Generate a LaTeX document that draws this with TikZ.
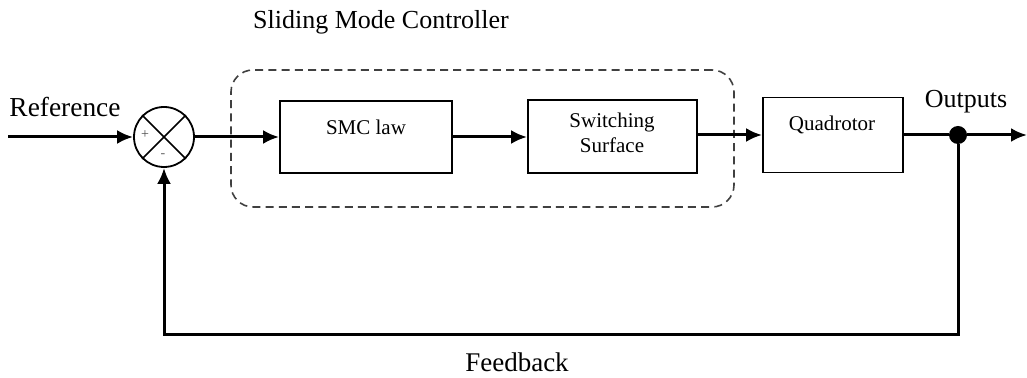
\documentclass[tikz,border=0pt]{standalone}
\usepackage{fontspec}
\setmainfont{Liberation Serif}
\usetikzlibrary{arrows.meta}

\begin{document}
\begin{tikzpicture}[x=0.5pt,y=-0.5pt,
    block/.style={draw,line width=0.9pt,minimum width=#1,minimum height=36pt,inner sep=0pt},
    blocktext/.style={font=\fontsize{10.5}{12.5}\selectfont,align=center,inner sep=0pt},
    outer/.style={font=\fontsize{13}{15}\selectfont,inner sep=0pt},
    sig/.style={line width=1.5pt,-{Latex[length=8pt,width=7pt]}}]
    \useasboundingbox (0,0) rectangle (1027,378);

    % controller group
    \node[draw,dashed,dash pattern=on 4pt off 2.6pt,line width=0.8pt,black!75,rounded corners=11pt,
          minimum width=251.5pt,minimum height=68.5pt] (smcgroup) at (482.5,138.5) {};
    \node[outer] (smctitle) at (381,22) {Sliding Mode Controller};

    % summing junction
    \node[draw,circle,line width=0.9pt,minimum size=30pt,inner sep=0pt] (sum) at (164,137) {};
    \draw[line width=0.8pt] (sum.north west) -- (sum.south east);
    \draw[line width=0.8pt] (sum.north east) -- (sum.south west);
    \node[inner sep=0pt,font=\fontsize{7}{8}\selectfont,black!70] (plus) at (145,135) {+};
    \node[inner sep=0pt,font=\fontsize{7}{8}\selectfont,black!60] (minus) at (163,156) {-};

    % blocks
    \node[block=86pt] (smc) at (366,137) {};
    \node[blocktext] (smclabel) at (366,127) {SMC law};
    \node[block=84.5pt,minimum height=36.5pt] (sw) at (612.5,136.5) {};
    \node[blocktext] (swlabel) at (612,133) {Switching\\Surface};
    \node[block=70pt,minimum height=37.5pt] (quad) at (833,135) {};
    \node[blocktext] (quadlabel) at (832,125) {Quadrotor};

    % input and output
    \coordinate (in) at (8,137);
    \node[outer,font=\fontsize{13.7}{15}\selectfont] (reflabel) at (65,107) {Reference};
    \node[circle,fill,inner sep=0pt,minimum size=9pt] (dot) at (958,135) {};
    \coordinate (out) at (1027,135);
    \node[outer] (outlabel) at (966,102) {Outputs};
    \coordinate (fb) at (958,335);
    \node[outer,font=\fontsize{13.5}{15}\selectfont] (fblabel) at (517,362) {Feedback};

    % signal lines
    \draw[sig] (in) -- (sum.west);
    \draw[sig] (sum.east) -- (smc.west);
    \draw[sig] (smc.east) -- (smc.east -| sw.west);
    \draw[sig] (sw.east |- quad) -- (quad.west);
    \draw[line width=1.5pt] (quad.east) -- (dot);
    \draw[sig] (dot) -- (out);
    \draw[sig] (dot) -- (fb) -| (sum.south);
\end{tikzpicture}
\end{document}
